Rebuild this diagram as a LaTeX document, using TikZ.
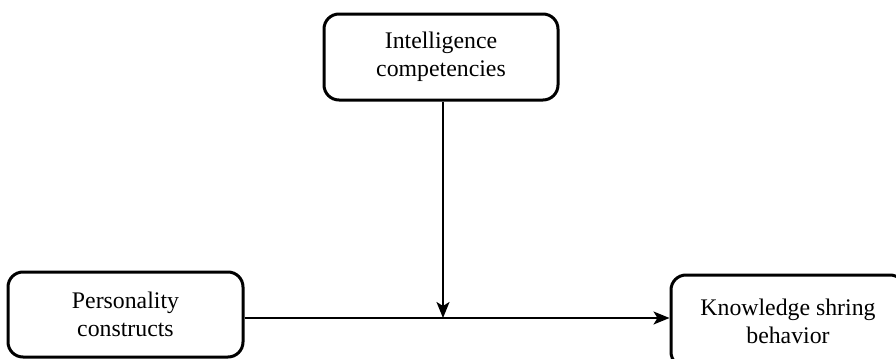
\documentclass[tikz,border=0pt]{standalone}
\usepackage{fontspec}
\setmainfont{Liberation Serif}
\usetikzlibrary{arrows.meta}
\begin{document}
\begin{tikzpicture}[x=0.5pt,y=-0.5pt,
  box/.style={draw=black, line width=1.5pt, rounded corners=7.5pt, align=center,
    font=\fontsize{11.9}{14}\selectfont, inner sep=0pt},
  conn/.style={draw=black, line width=0.9pt, -{Stealth[length=8pt,width=6.5pt,inset=2pt]}}]
\useasboundingbox (0,0) rectangle (896,359);
\clip (0,0) rectangle (896,359);
\node[box, minimum width=117pt, minimum height=43pt] (ic) at (441,57) {Intelligence\\competencies};
\node[box, minimum width=117.5pt, minimum height=42.5pt] (pc) at (125.5,314.5) {Personality\\constructs};
\node[box, minimum width=117pt, minimum height=46pt] (ks) at (788,321) {Knowledge shring\\behavior};
\coordinate (j) at (443,318);
\draw[conn] (ic.south -| j) -- (j);
\draw[conn] (pc.east |- j) -- (ks.west |- j);
\end{tikzpicture}
\end{document}
